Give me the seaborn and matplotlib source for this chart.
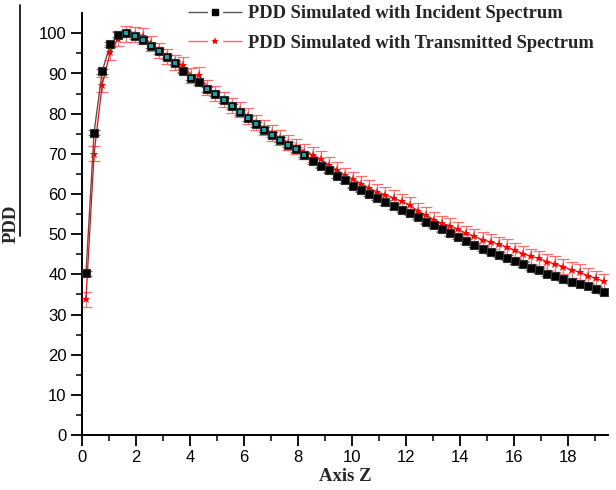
import numpy as np
import pandas as pd
import seaborn as sns
import matplotlib
matplotlib.use("Agg")
import matplotlib.pyplot as plt
from matplotlib.lines import Line2D

# ---- data ----
depth_start = 0.15
depth_step = 0.3
incident_pdd = [40.3, 75.3, 90.5, 97.3, 99.7, 100.0, 99.3, 98.4, 96.9, 95.5,
                94.1, 92.6, 90.6, 89.0, 87.8, 86.1, 84.9, 83.3, 81.8, 80.3,
                78.9, 77.4, 76.0, 74.8, 73.5, 72.3, 71.1, 69.8, 68.2, 67.1,
                65.9, 64.5, 63.4, 62.1, 61.1, 60.1, 59.1, 57.9, 57.0, 56.1,
                55.4, 54.3, 53.1, 52.2, 51.2, 50.2, 49.4, 48.2, 47.3, 46.4,
                45.6, 44.9, 44.2, 43.3, 42.5, 41.7, 41.0, 40.2, 39.6, 38.9,
                38.1, 37.6, 37.1, 36.3, 35.6]
transmitted_pdd = [33.8, 70.0, 87.2, 95.3, 98.7, 99.8, 99.7, 99.3, 97.5, 95.8,
                   94.3, 92.8, 92.2, 89.5, 89.6, 86.5, 85.0, 83.5, 82.0, 81.0,
                   79.4, 77.8, 76.5, 75.2, 74.0, 72.8, 71.8, 70.5, 69.8, 68.7,
                   67.3, 66.0, 64.7, 63.7, 62.6, 61.5, 60.5, 59.8, 59.0, 58.2,
                   57.3, 55.8, 54.8, 53.6, 52.7, 52.1, 51.2, 50.2, 49.5, 48.6,
                   48.1, 47.5, 46.8, 46.0, 45.2, 44.5, 44.0, 43.1, 42.6, 41.9,
                   41.1, 40.6, 39.7, 39.0, 38.3]
incident_err = [0.6] * len(incident_pdd)
transmitted_err = [1.9] * len(transmitted_pdd)
x_ticks = [0, 2, 4, 6, 8, 10, 12, 14, 16, 18]
y_ticks = [0, 10, 20, 30, 40, 50, 60, 70, 80, 90, 100]
label_inc = "PDD Simulated with Incident Spectrum"
label_tra = "PDD Simulated with Transmitted Spectrum"

depth = [round(depth_start + depth_step * i, 2) for i in range(len(incident_pdd))]
df = pd.DataFrame({"z": depth, "inc": incident_pdd, "tra": transmitted_pdd})

sns.set_theme(style="ticks")
plt.rcParams["font.family"] = ["Liberation Sans", "DejaVu Sans"]

fig = plt.figure(figsize=(6.16, 4.9), dpi=100)
ax = fig.add_axes([0.133, 0.112, 0.854, 0.861])

# transmitted (red) below
ax.errorbar(df["z"], df["tra"], yerr=transmitted_err, fmt="none",
            ecolor="#ff5555", elinewidth=0.9, capsize=4, capthick=0.9,
            alpha=0.85, zorder=2)
sns.lineplot(data=df, x="z", y="tra", ax=ax, color="red", linewidth=0.9,
             marker="*", markersize=6.5, markeredgewidth=0, markerfacecolor="red",
             legend=False, zorder=3)

# incident (black) on top
ax.errorbar(df["z"], df["inc"], yerr=incident_err, fmt="none",
            ecolor="#777777", elinewidth=0.9, capsize=4, capthick=0.9,
            zorder=4)
sns.lineplot(data=df, x="z", y="inc", ax=ax, color="#555555", linewidth=1.0,
             marker="s", markersize=5.5, markeredgecolor="#333333",
             markeredgewidth=0.8, markerfacecolor="black",
             legend=False, zorder=5)
close = np.abs(np.array(transmitted_pdd) - np.array(incident_pdd)) < 1.0
ax.scatter(df["z"][close], df["inc"][close], marker="s", s=9,
           color="#13a6a6", linewidths=0, zorder=6)

ax.set_xlim(0, 19.5)
ax.set_ylim(0, 105)
ax.set_xticks(x_ticks)
ax.set_yticks(y_ticks)
ax.set_xticks(np.arange(1, 20, 2), minor=True)
ax.set_yticks(np.arange(5, 105, 10), minor=True)
ax.tick_params(axis="both", which="major", direction="out", length=8, width=1.3,
               labelsize=12, colors="black", pad=3)
ax.tick_params(axis="both", which="minor", direction="out", length=4.5, width=1.3)
for s in ["top", "right"]:
    ax.spines[s].set_visible(False)
for s in ["left", "bottom"]:
    ax.spines[s].set_linewidth(1.4)
    ax.spines[s].set_color("black")

ax.set_xlabel("Axis Z", fontsize=13.5, fontweight="bold",
              family=["Liberation Serif", "DejaVu Serif"], labelpad=2)
ax.set_ylabel("PDD", fontsize=13.5, fontweight="bold",
              family=["Liberation Serif", "DejaVu Serif"], labelpad=14)

h_inc = Line2D([], [], color="#555555", linewidth=1.0, linestyle=(0, (14, 11)),
               marker="s", markersize=4, markerfacecolor="black",
               markeredgecolor="black")
h_tra = Line2D([], [], color="#ff6666", linewidth=1.0, linestyle=(0, (14, 11)),
               marker="*", markersize=6, markerfacecolor="red",
               markeredgewidth=0)
leg = fig.legend([h_inc, h_tra], [label_inc, label_tra],
                 loc="upper left", bbox_to_anchor=(188 / 616, 1 - 5 / 490),
                 bbox_transform=fig.transFigure, frameon=False,
                 prop={"family": ["Liberation Serif", "DejaVu Serif"],
                       "weight": "bold", "size": 13.3},
                 handlelength=2.93, handletextpad=0.3, labelspacing=0.7,
                 borderpad=0, borderaxespad=0, numpoints=1)

# stray vertical line left of the y label (present in reference)
fig.add_artist(Line2D([20 / 616, 20 / 616], [1 - 5 / 490, 1 - 236 / 490],
                      color="black", linewidth=1.2))

fig.savefig("out.png", dpi=100)
